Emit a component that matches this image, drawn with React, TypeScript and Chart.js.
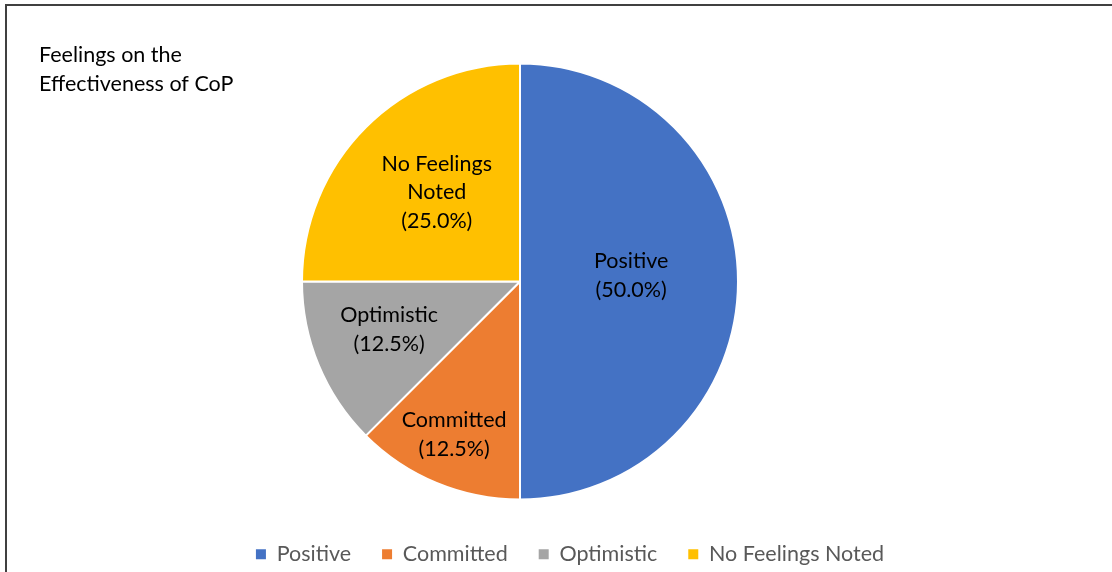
import React, { useEffect, useRef } from "react";
import { Chart, registerables } from "chart.js";

Chart.register(...registerables);

const titleLines = ["Feelings on the", "Effectiveness of CoP"];
const categories = ["Positive", "Committed", "Optimistic", "No Feelings Noted"];
const counts = [4, 1, 1, 2];
const sliceColors = ["#4472C4", "#ED7D31", "#A5A5A5", "#FFC000"];
// radial position of each data label, as a fraction of the pie radius
const labelRadiusFraction = [0.51, 0.79, 0.65, 0.54];

const FONT = "Lato, 'Open Sans', sans-serif";
const FONT_SIZE = 21.5;

const cornerTitle = {
  id: "cornerTitle",
  afterDraw(chart: any) {
    const ctx = chart.ctx;
    ctx.save();
    ctx.font = `${FONT_SIZE}px ${FONT}`;
    ctx.fillStyle = "#000000";
    ctx.textAlign = "left";
    ctx.textBaseline = "middle";
    titleLines.forEach((t, i) => ctx.fillText(t, 39, 55 + i * 29));
    ctx.restore();
  },
};

const sliceLabels = {
  id: "sliceLabels",
  afterDatasetsDraw(chart: any) {
    const ctx = chart.ctx;
    const meta = chart.getDatasetMeta(0);
    const data = chart.data.datasets[0].data as number[];
    const total = data.reduce((a, b) => a + b, 0);
    ctx.save();
    ctx.font = `${FONT_SIZE}px ${FONT}`;
    ctx.fillStyle = "#000000";
    ctx.textAlign = "center";
    ctx.textBaseline = "middle";
    meta.data.forEach((arc: any, i: number) => {
      const { x, y, startAngle, endAngle, outerRadius } = arc.getProps(
        ["x", "y", "startAngle", "endAngle", "outerRadius"],
        true
      );
      const mid = (startAngle + endAngle) / 2;
      const r = outerRadius * labelRadiusFraction[i];
      const cx = x + Math.cos(mid) * r;
      const cy = y + Math.sin(mid) * r - 6;
      const name = chart.data.labels[i] as string;
      const words = name.split(" ");
      const lines: string[] = [];
      let cur = "";
      words.forEach((w) => {
        const test = cur ? cur + " " + w : w;
        if (cur && ctx.measureText(test).width > 135) {
          lines.push(cur);
          cur = w;
        } else cur = test;
      });
      if (cur) lines.push(cur);
      lines.push(`(${((data[i] / total) * 100).toFixed(1)}%)`);
      const lh = 28.5;
      const top = cy - ((lines.length - 1) * lh) / 2;
      lines.forEach((l, k) => ctx.fillText(l, cx, top + k * lh));
    });
    ctx.restore();
  },
};

const shiftLegend = {
  id: "shiftLegend",
  afterLayout(chart: any) {
    if (chart.legend) {
      chart.legend.left += 50;
      chart.legend.right += 50;
      chart.legend.top += 3;
      chart.legend.bottom += 3;
    }
  },
};

export default function App() {
  const ref = useRef<HTMLCanvasElement | null>(null);
  useEffect(() => {
    if (!ref.current) return;
    const defaultLabels = (Chart as any).overrides.pie.plugins.legend.labels
      .generateLabels;
    const chart = new Chart(ref.current, {
      type: "pie",
      data: {
        labels: categories,
        datasets: [
          {
            data: counts,
            backgroundColor: sliceColors,
            borderColor: "#FFFFFF",
            borderWidth: 2,
            radius: 218,
            clip: false,
          } as any,
        ],
      },
      options: {
        animation: false,
        responsive: false,
        maintainAspectRatio: false,
        layout: { padding: { left: 0, right: 72, top: 53.5, bottom: 0 } },
        plugins: {
          title: { display: false },
          tooltip: { enabled: false },
          legend: {
            display: true,
            position: "bottom",
            labels: {
              boxWidth: 10,
              boxHeight: 10,
              padding: 31,
              color: "#595959",
              font: { family: FONT, size: FONT_SIZE },
              generateLabels: (c: any) =>
                defaultLabels(c).map((l: any) => ({
                  ...l,
                  lineWidth: 0,
                  strokeStyle: l.fillStyle,
                })),
            },
          },
        },
      },
      plugins: [cornerTitle, sliceLabels, shiftLegend],
    });
    return () => chart.destroy();
  }, []);

  return (
    <div
      style={{
        position: "absolute",
        left: 0,
        top: 0,
        width: 1112,
        height: 572,
        background: "#FFFFFF",
        overflow: "hidden",
      }}
    >
      <div
        style={{
          position: "absolute",
          left: 5,
          top: 4,
          width: 1200,
          height: 700,
          borderTop: "2px solid #404040",
          borderLeft: "2px solid #404040",
        }}
      />
      <canvas
        ref={ref}
        width={1112}
        height={572}
        style={{ position: "absolute", left: 0, top: 0 }}
      />
    </div>
  );
}
